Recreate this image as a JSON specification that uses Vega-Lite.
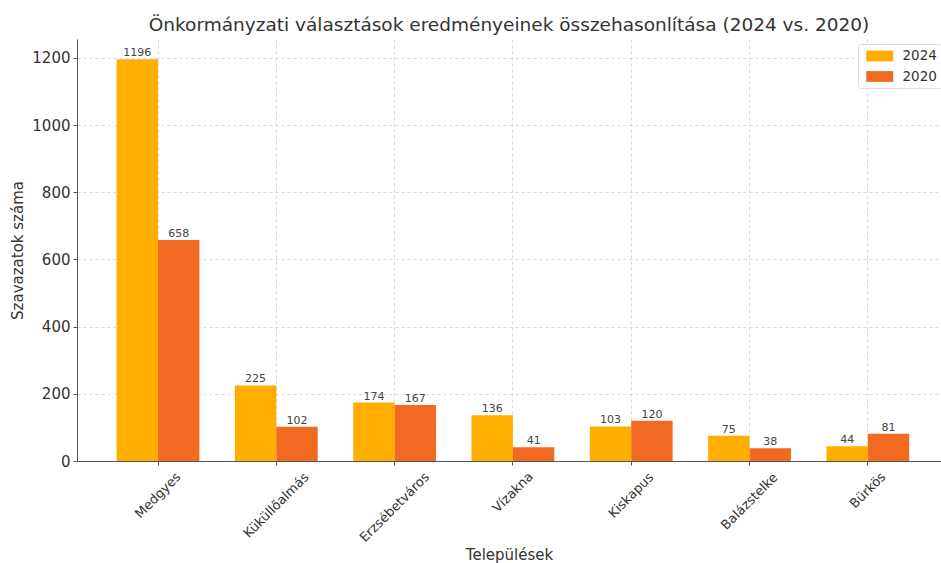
{
  "$schema": "https://vega.github.io/schema/vega-lite/v6.json",
  "width": 864,
  "height": 422,
  "autosize": {"type": "none"},
  "padding": {"left": 77, "top": 39, "right": 0, "bottom": 102},
  "background": "white",
  "config": {
    "font": "DejaVu Sans",
    "view": {"stroke": null},
    "axis": {"labelColor": "#333333", "titleColor": "#333333", "titleFontWeight": "normal", "domainColor": "#555555", "tickColor": "#555555", "gridColor": "#cfcfcf", "gridDash": [3, 3], "gridWidth": 0.8}
  },
  "title": {"text": "Önkormányzati választások eredményeinek összehasonlítása (2024 vs. 2020)", "fontSize": 18.5, "fontWeight": "normal", "color": "#333333", "anchor": "middle", "baseline": "alphabetic", "offset": 11, "dy": 21},
  "data": {"values": [
    {"telepules": "Medgyes", "ev": "2024", "szavazat": 1196},
    {"telepules": "Medgyes", "ev": "2020", "szavazat": 658},
    {"telepules": "Küküllőalmás", "ev": "2024", "szavazat": 225},
    {"telepules": "Küküllőalmás", "ev": "2020", "szavazat": 102},
    {"telepules": "Erzsébetváros", "ev": "2024", "szavazat": 174},
    {"telepules": "Erzsébetváros", "ev": "2020", "szavazat": 167},
    {"telepules": "Vízakna", "ev": "2024", "szavazat": 136},
    {"telepules": "Vízakna", "ev": "2020", "szavazat": 41},
    {"telepules": "Kiskapus", "ev": "2024", "szavazat": 103},
    {"telepules": "Kiskapus", "ev": "2020", "szavazat": 120},
    {"telepules": "Balázstelke", "ev": "2024", "szavazat": 75},
    {"telepules": "Balázstelke", "ev": "2020", "szavazat": 38},
    {"telepules": "Bürkös", "ev": "2024", "szavazat": 44},
    {"telepules": "Bürkös", "ev": "2020", "szavazat": 81}
  ]},
  "encoding": {
    "x": {"field": "telepules", "type": "nominal", "sort": null,
      "scale": {"paddingInner": 0.3, "paddingOuter": 0.3016, "align": 0.555},
      "axis": {"title": "Települések", "titleFontSize": 15, "titleY": 98, "titleBaseline": "alphabetic", "labelAngle": -45, "labelAlign": "center", "labelBaseline": "middle", "labelFontSize": 13, "labelBound": false, "labelOverlap": false,
        "labelPadding": {"expr": "datum.label == 'Medgyes' ? 30 : datum.label == 'Küküllőalmás' ? 40 : datum.label == 'Erzsébetváros' ? 42 : datum.label == 'Vízakna' ? 27 : datum.label == 'Kiskapus' ? 30 : datum.label == 'Balázstelke' ? 36 : 25"},
        "tickSize": 4, "bandPosition": 0.5, "grid": true}},
    "y": {"field": "szavazat", "type": "quantitative",
      "scale": {"domain": [0, 1256], "nice": false},
      "axis": {"title": "Szavazatok száma", "titleFontSize": 15, "titleX": -60, "titleBaseline": "middle", "labelFontSize": 15, "labelPadding": 3, "tickSize": 4, "format": "d", "values": [0, 200, 400, 600, 800, 1000, 1200], "grid": true}},
    "xOffset": {"field": "ev", "type": "nominal", "sort": ["2024", "2020"], "scale": {"paddingInner": 0, "paddingOuter": 0}}
  },
  "layer": [
    {
      "mark": {"type": "bar"},
      "encoding": {
        "color": {"field": "ev", "type": "nominal",
          "scale": {"domain": ["2024", "2020"], "range": ["#FFAE00", "#F26A22"]},
          "legend": {"title": null, "orient": "none", "legendX": 781, "legendY": 5, "labelFontSize": 13.5, "labelColor": "#333333", "symbolType": "M-2,-0.8H2V0.8H-2Z", "symbolSize": 182, "symbolStrokeWidth": 0, "symbolOffset": 9.75, "labelOffset": 15.75, "strokeColor": "#dddddd", "fillColor": "white", "padding": 5, "cornerRadius": 3, "rowPadding": 6.5}}
      }
    },
    {
      "mark": {"type": "text", "baseline": "alphabetic", "dy": -3, "fontSize": 11, "color": "#444444"},
      "encoding": {"text": {"field": "szavazat", "type": "quantitative"}}
    }
  ]
}
